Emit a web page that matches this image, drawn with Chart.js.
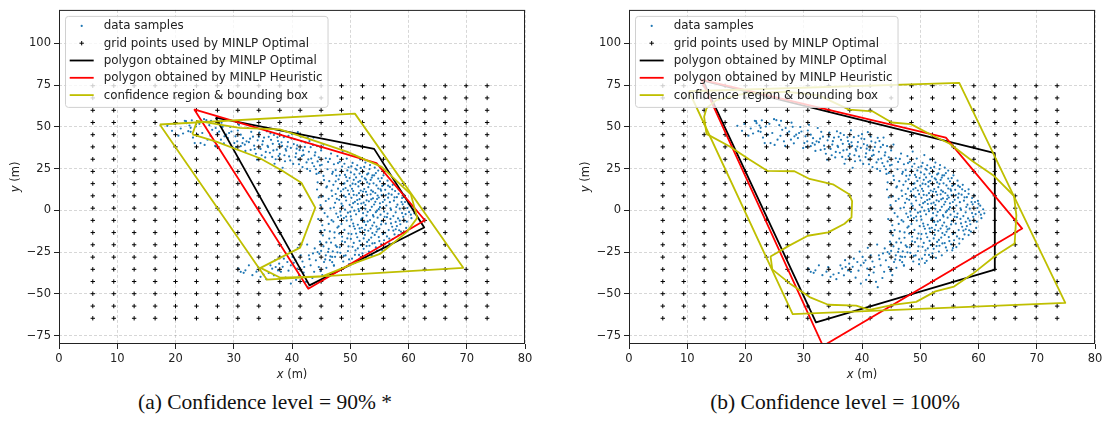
<!DOCTYPE html>
<html>
<head>
<meta charset="utf-8">
<script src="https://cdn.jsdelivr.net/npm/chart.js"></script>
<style>
  body { margin: 0; background: #fff; }
  #wrap { position: relative; width: 1102px; height: 423px; overflow: hidden; }
  canvas { position: absolute; top: 0; }
  .cap { position: absolute; top: 390px; width: 400px; text-align: center;
         font-family: "Liberation Serif", serif; font-size: 21.5px; line-height: 24px; color: #111; }
</style>
</head>
<body>
<div id="wrap">
  <canvas id="chartA" width="540" height="390" style="left:0px"></canvas>
  <canvas id="chartB" width="540" height="390" style="left:570px"></canvas>
  <div class="cap" id="capA" style="left:65px"></div>
  <div class="cap" id="capB" style="left:635px"></div>
</div>
<script>
// axis ticks
const xTicks = [0, 10, 20, 30, 40, 50, 60, 70, 80];
const yTicks = [-75, -50, -25, 0, 25, 50, 75, 100];

// candidate grid (same in both panels)
const gridX = [5.8, 9.4, 12.9, 16.5, 20.0, 23.6, 27.2, 30.7, 34.3, 37.9, 41.4, 45.0, 48.5, 52.1, 55.7, 59.2, 62.8, 66.3, 69.9, 73.5];
const gridY = [74.6, 67.3, 59.9, 52.6, 45.3, 38.0, 30.6, 23.3, 16.0, 8.7, 1.3, -6.0, -13.3, -20.6, -28.0, -35.3, -42.6, -49.9, -57.3, -64.6];

// data samples (same cloud in both panels)
const samples = [
  [18.6,50.6],[19.4,47.6],[20.5,44.7],[21.6,53.6],[21.9,52.2],[22.4,50.8],[22.6,49.4],[22.2,47.4],[22.6,47.0],[23.5,50.2],
  [23.8,45.3],[23.3,40.3],[24.3,40.3],[24.9,54.6],[26.1,53.6],[25.5,42.3],[26.3,48.2],[26.9,49.3],[27.2,46.3],[27.5,47.2],
  [27.8,42.3],[26.6,41.3],[28.4,44.3],[28.7,45.3],[29.0,43.3],[29.2,46.3],[29.6,47.2],[30.1,40.3],[30.3,44.3],[30.6,41.3],
  [31.2,38.4],[31.5,40.3],[31.9,39.3],[32.2,41.3],[30.9,51.2],[31.2,45.3],[30.4,38.0],[21.8,53.4],[25.3,54.0],[28.1,50.0],
  [32.6,40.8],[32.9,36.2],[33.3,44.1],[33.5,38.7],[33.8,33.9],[34.1,41.9],[34.4,46.5],[34.6,36.8],[34.9,39.4],[35.2,43.6],
  [35.4,31.7],[35.7,47.3],[35.9,37.9],[36.2,34.5],[36.4,42.2],[36.7,39.8],[36.9,45.1],[37.2,30.6],[37.4,36.3],[37.6,41.5],
  [37.9,33.8],[38.1,47.9],[38.3,38.6],[38.6,43.8],[38.8,29.4],[39.0,35.7],[39.3,40.9],[39.5,32.3],[39.8,37.4],[40.0,45.6],
  [40.2,27.8],[40.4,42.7],[40.7,34.1],[40.9,38.9],[41.1,30.5],[41.3,36.0],[41.6,41.3],[41.8,25.9],[42.0,33.2],[42.2,38.0],
  [42.5,28.7],[42.7,43.4],[42.9,35.1],[43.1,23.6],[43.3,31.0],[43.6,39.2],[43.8,26.4],[44.0,34.7],[44.2,21.8],[44.4,29.3],
  [36.0,44.0],[37.0,27.9],[38.7,33.0],[39.9,43.0],[41.0,46.8],[34.0,30.3],[35.5,35.0],[36.6,32.0],[38.4,25.5],[40.6,31.9],
  [41.9,35.9],[43.0,41.5],[33.0,47.0],[39.2,38.2],[37.8,39.6],
  [19.8,51.7],[20.9,49.0],[21.3,46.0],[22.8,53.9],[23.0,43.6],[24.1,51.8],[24.6,46.3],[25.0,39.2],[25.8,51.0],[26.0,44.6],
  [26.8,38.6],[27.9,52.5],[28.3,40.1],[29.4,49.9],[29.9,37.3],[30.7,47.8],[31.6,43.2],[32.0,35.6],[32.4,49.3],[32.8,42.9],
  [33.6,36.7],[34.3,44.0],[34.8,33.0],[35.0,41.4],[35.8,38.6],[36.3,46.2],[36.8,35.9],[37.5,43.7],[37.7,32.5],[38.2,40.7],
  [38.9,36.7],[39.4,44.6],[39.7,29.9],[40.3,39.7],[40.8,36.9],[41.2,27.6],[41.5,44.1],[41.7,32.6],[42.3,40.6],[42.6,24.8],
  [42.8,30.5],[43.2,37.8],[43.5,28.3],[43.7,43.6],[43.9,32.9],[44.1,24.6],[44.3,38.5],[44.6,31.8],[45.0,35.9],[45.4,39.4],
  [44.3,12.5],[44.5,-5.2],[44.6,22.4],[44.8,-18.7],[44.9,3.1],[44.7,-26.0],[44.4,16.8],[44.9,-12.3],
  [45.1,27.3],[45.2,-8.9],[45.3,8.4],[45.4,-21.5],[45.5,18.1],[45.6,-1.6],[45.7,-29.4],[45.8,31.2],[45.9,13.7],[45.3,-15.0],
  [46.1,24.6],[46.1,-3.8],[46.2,-24.9],[46.3,6.9],[46.4,17.5],[46.5,-12.6],[46.5,30.8],[46.6,1.2],[46.7,-19.3],[46.8,11.8],
  [46.9,-31.0],[46.9,21.9],[46.3,-8.1],[46.7,34.0],
  [47.1,-6.7],[47.1,15.3],[47.2,27.6],[47.3,-16.4],[47.4,4.5],[47.4,-27.8],[47.5,9.8],[47.6,20.7],[47.6,-1.9],[47.7,-21.9],
  [47.8,32.5],[47.8,-10.3],[47.9,13.0],[47.2,-33.1],[47.5,24.1],[47.9,-4.0],
  [48.0,18.6],[48.1,-13.9],[48.1,6.3],[48.2,29.1],[48.3,-25.4],[48.3,-0.8],[48.4,11.4],[48.5,23.9],[48.5,-8.2],[48.6,-18.5],
  [48.7,2.7],[48.7,35.2],[48.8,15.9],[48.8,-30.6],[48.9,-4.6],[48.9,8.8],[48.2,-22.1],[48.6,26.2],
  [49.0,-11.7],[49.1,21.2],[49.1,0.4],[49.2,-27.0],[49.2,13.4],[49.3,5.9],[49.4,-6.1],[49.4,31.0],[49.5,-16.8],[49.5,17.6],
  [49.6,-1.4],[49.7,25.8],[49.7,-21.6],[49.8,9.7],[49.8,-32.2],[49.9,3.3],[49.9,-9.4],[49.3,19.9],[49.6,-24.4],[49.0,27.9],
  [50.0,14.8],[50.1,-3.6],[50.1,22.7],[50.2,-14.2],[50.2,7.5],[50.3,-28.9],[50.3,1.8],[50.4,28.4],[50.5,-7.9],[50.5,11.6],
  [50.6,-19.5],[50.6,18.3],[50.7,-0.2],[50.7,33.1],[50.8,5.1],[50.8,-11.0],[50.9,-24.0],[50.9,24.9],[50.2,-5.6],[50.4,16.0],
  [50.6,9.3],[50.8,-31.5],
  [51.0,-2.4],[51.0,19.7],[51.1,9.0],[51.2,-16.1],[51.2,27.0],[51.3,3.8],[51.3,-8.6],[51.4,14.3],[51.5,-26.7],[51.5,-0.5],
  [51.6,22.0],[51.6,6.7],[51.7,-12.9],[51.7,30.5],[51.8,-20.8],[51.8,11.9],[51.9,1.3],[51.9,-5.3],[51.1,-30.2],[51.4,17.0],
  [51.6,-18.3],[51.8,25.4],
  [52.0,8.1],[52.0,-10.4],[52.1,15.6],[52.2,-1.7],[52.2,23.3],[52.3,-23.0],[52.3,4.6],[52.4,-6.9],[52.5,19.1],[52.5,-14.7],
  [52.6,0.9],[52.6,28.6],[52.7,11.1],[52.7,-28.5],[52.8,-3.1],[52.8,6.0],[52.9,-18.9],[52.9,16.7],[52.1,-25.8],[52.4,12.8],
  [52.7,-8.8],[52.9,21.5],
  [53.0,-0.9],[53.1,13.9],[53.1,-12.2],[53.2,5.4],[53.3,24.7],[53.3,-21.2],[53.4,-5.8],[53.5,9.6],[53.5,18.2],[53.6,-16.3],
  [53.7,2.1],[53.7,-26.9],[53.8,-9.1],[53.8,21.0],[53.9,7.2],[53.9,-2.9],[53.2,-17.7],[53.4,27.1],[53.6,12.0],[53.8,-13.6],
  [54.0,16.2],[54.1,-7.3],[54.1,3.5],[54.2,-19.6],[54.3,10.4],[54.4,-1.1],[54.4,22.3],[54.5,-12.8],[54.6,6.8],[54.6,-24.1],
  [54.7,-4.4],[54.8,13.1],[54.8,19.0],[54.9,0.7],[54.9,-16.0],[54.2,25.6],[54.5,-9.7],[54.7,8.9],
  [55.0,-10.9],[55.1,4.2],[55.1,17.4],[55.2,-2.6],[55.3,-20.3],[55.4,9.1],[55.4,-6.4],[55.5,14.6],[55.6,-14.2],[55.7,1.5],
  [55.7,21.0],[55.8,-17.9],[55.9,6.3],[55.9,-3.9],[55.3,11.8],[55.6,-22.6],
  [56.0,12.3],[56.1,-8.0],[56.2,2.9],[56.3,-15.6],[56.4,17.8],[56.4,-1.9],[56.5,7.6],[56.6,-11.8],[56.7,-19.9],[56.8,4.9],
  [56.8,14.0],[56.9,-5.1],[56.2,-22.0],[56.6,10.0],
  [57.0,0.3],[57.1,9.4],[57.2,-9.8],[57.3,15.3],[57.4,-3.4],[57.5,5.8],[57.6,-14.4],[57.7,11.6],[57.8,-6.9],[57.9,2.0],
  [57.3,-17.2],[57.8,-11.3],
  [58.0,7.9],[58.2,-4.8],[58.3,12.6],[58.4,-11.9],[58.5,1.0],[58.6,-8.3],[58.8,5.0],[58.9,-1.6],[58.3,-14.8],
  [59.0,3.6],[59.2,-6.2],[59.3,9.0],[59.5,-2.3],[59.6,-10.5],[59.8,1.4],[59.9,5.7],
  [60.1,-1.0],[60.3,2.8],[60.5,-4.7],[60.8,0.6],
  [44.6,7.8],[44.8,26.9],[45.0,-24.3],[45.2,0.9],[45.4,20.6],[45.6,-11.8],[45.8,5.6],[45.9,-19.2],[46.0,14.3],[46.2,29.0],
  [46.4,-16.9],[46.6,-27.6],[46.8,-5.9],[46.9,8.6],[47.0,23.0],[47.2,1.7],[47.3,-13.2],[47.5,17.4],[47.7,6.9],[47.8,-25.1],
  [47.9,28.3],[48.0,-9.6],[48.2,21.0],[48.4,-3.1],[48.5,4.0],[48.6,-15.8],[48.8,12.6],[48.9,-27.2],[49.0,16.1],[49.1,-19.0],
  [49.2,8.0],[49.3,-3.7],[49.5,23.9],[49.6,11.9],[49.7,-13.9],[49.8,-29.4],[49.9,19.3],[50.0,-0.9],[50.1,-17.1],[50.2,26.3],
  [50.3,12.9],[50.4,-21.8],[50.5,4.3],[50.6,-9.5],[50.7,21.5],[50.8,-26.6],[50.9,15.7],[51.0,-13.9],[51.1,24.3],[51.2,6.2],
  [51.3,-22.8],[51.4,0.8],[51.5,10.3],[51.6,-10.8],[51.7,17.7],[51.8,-28.0],[51.9,4.1],[52.0,20.2],[52.1,-4.5],[52.2,11.3],
  [52.3,-16.8],[52.4,26.0],[52.5,-11.7],[52.6,3.2],[52.7,18.4],[52.8,-21.4],[52.9,9.3],[53.0,-6.6],[53.1,22.1],[53.2,-24.7],
  [53.3,15.9],[53.4,0.2],[53.5,-10.9],[53.6,6.6],[53.7,19.6],[53.8,-19.8],[53.9,11.2],[54.0,-3.7],[54.1,20.9],[54.2,-14.7],
  [54.3,5.1],[54.4,-22.2],[54.5,14.9],[54.6,-0.2],[54.7,-11.4],[54.8,23.8],[54.9,7.7],[55.0,-18.4],[55.1,1.9],[55.2,12.6],
  [55.3,-8.4],[55.4,19.3],[55.5,-23.9],[55.6,5.0],[55.8,-0.7],[55.9,15.7],[56.0,-13.4],[56.1,9.2],[56.3,-4.1],[56.5,14.8],
  [56.7,-16.9],[56.9,1.2],[57.0,-7.8],[57.2,12.6],[57.4,-12.1],[57.6,7.8],[57.8,-1.2],[58.0,-9.4],[58.1,3.4],[58.3,9.9],
  [58.5,-6.2],[58.7,-12.7],[58.9,7.4],[59.1,-3.9],[59.4,5.0],[59.7,-6.8],[60.0,3.9],[60.4,-2.6],[61.0,-1.8],
  [30.8,-34.8],[31.2,-36.8],[31.7,-37.4],[32.6,-32.9],[33.2,-38.8],[34.6,-39.8],[35.1,-38.4],[36.3,-32.9],[36.6,-34.9],[37.2,-33.9],
  [37.8,-31.9],[38.1,-36.8],[38.6,-28.9],[39.2,-30.9],[39.8,-32.9],[40.1,-27.9],[39.8,-43.8],[40.6,-29.9],[40.9,-34.9],[41.2,-38.8],
  [41.5,-26.9],[42.1,-33.9],[42.4,-42.8],[42.9,-26.9],[43.2,-32.9],[43.8,-36.8],[44.1,-29.9],[44.4,-25.0],[44.6,-33.9],[45.2,-38.8],
  [45.5,-30.9],[45.8,-26.9],[46.3,-23.0],[46.9,-27.9],[47.2,-32.9],[47.5,-21.0],[42.7,-46.0],[38.9,-40.3],[36.0,-37.5],[43.5,-40.5],
  [41.0,-22.4],[42.6,-20.5],[43.9,-22.8],[45.0,-20.1],[39.6,-24.7],[37.1,-29.8],
  [32.0,-35.9],[33.9,-36.7],[35.6,-41.2],[36.9,-38.9],[38.4,-33.8],[39.4,-36.1],[40.3,-31.4],[41.8,-30.6],[42.0,-37.2],[43.0,-29.2],
  [43.6,-25.8],[44.9,-36.4],[45.9,-34.4],[46.5,-29.8],[47.0,-24.6],[40.7,-41.6],[37.6,-36.0],[34.2,-34.0]
];

// panel (a): confidence level 90%
const optimalA = [[26.9,55.5],[54.1,36.8],[62.7,-10.3],[43.0,-44.9],[26.9,55.5]];
const heuristicA = [[23.2,60.5],[54.5,28.3],[62.8,-5.9],[42.8,-46.9],[23.2,60.5]];
const regionA = [[22.9,45.5],[23.7,53.6],[31.0,49.4],[37.9,48.5],[42.5,43.3],[49.4,35.2],[55.4,26.0],[60.4,9.6],
  [61.5,-4.5],[59.7,-13.0],[55.1,-26.1],[51.1,-31.1],[45.2,-39.5],[38.0,-40.3],[34.6,-34.4],[41.4,-22.3],[44.0,1.6],
  [41.6,16.5],[38.2,24.0],[34.5,31.2],[27.0,41.1],[22.9,45.5]];
const boxA = [[17.3,51.4],[50.8,57.9],[69.4,-34.4],[35.7,-41.5],[17.3,51.4]];

// panel (b): confidence level 100%
const optimalB = [[12.7,77.7],[62.8,34.2],[62.8,-35.5],[32.1,-67.1],[12.7,77.7]];
const heuristicB = [[12.4,78.3],[54.4,43.5],[67.5,-10.9],[33.3,-81.2],[12.4,78.3]];
const regionB = [[13.3,61.1],[15.0,66.0],[20.0,70.0],[27.0,71.0],[32.6,68.8],[37.8,60.3],[41.8,59.3],[45.1,52.6],
  [48.4,51.6],[52.1,44.8],[55.0,40.0],[59.0,29.4],[62.7,20.5],[66.1,8.6],[66.5,-3.0],[66.2,-19.9],[62.8,-27.5],
  [59.0,-38.0],[55.8,-45.6],[52.6,-48.5],[49.3,-54.8],[45.3,-56.6],[41.3,-59.6],[39.0,-57.0],[34.2,-56.5],[31.0,-51.9],
  [27.8,-44.3],[24.6,-35.3],[24.3,-27.6],[27.5,-21.1],[30.7,-15.2],[34.2,-13.2],[37.0,-8.0],[38.2,-4.2],[38.3,5.5],
  [37.8,9.6],[35.0,15.6],[31.0,18.8],[28.4,23.4],[23.8,23.6],[20.6,30.6],[17.3,38.2],[13.3,45.8],[12.9,56.0],[13.3,61.1]];
const boxB = [[10.3,71.3],[56.7,76.3],[74.9,-55.4],[28.1,-62.1],[10.3,71.3]];

const legendLabels = [
  'data samples',
  'grid points used by MINLP Optimal',
  'polygon obtained by MINLP Optimal',
  'polygon obtained by MINLP Heuristic',
  'confidence region & bounding box'
];
const captions = ['(a) Confidence level = 90% *', '(b) Confidence level = 100%'];

const FONT = '"DejaVu Sans", sans-serif';
const toXY = arr => arr.map(p => ({ x: p[0], y: p[1] }));

const gridPts = [];
gridY.forEach(y => gridX.forEach(x => gridPts.push({ x: x, y: y })));

// frame, legend box and axis titles, drawn the matplotlib way
const mplPlugin = {
  id: 'mpl',
  afterDraw(chart) {
    const ctx = chart.ctx;
    const a = chart.chartArea;
    ctx.save();

    // legend
    const lx = a.left + 6, ly = a.top + 6;
    ctx.font = '11.9px ' + FONT;
    const items = chart.data.datasets.filter(d => !d.noLegend);
    const tw = Math.max(...items.map(d => ctx.measureText(d.label).width));
    const w = 38.7 + tw + 5, h = 91;
    ctx.beginPath();
    ctx.roundRect(lx + 0.5, ly + 0.5, w, h, 3);
    ctx.fillStyle = 'rgba(255,255,255,0.8)';
    ctx.fill();
    ctx.strokeStyle = '#d0d0d0';
    ctx.lineWidth = 1;
    ctx.stroke();
    items.forEach((d, i) => {
      const cy = ly + 10 + i * 17.3;
      const mx = lx + 16.7;
      if (d.showLine) {
        ctx.beginPath();
        ctx.moveTo(lx + 4.7, cy);
        ctx.lineTo(lx + 28.7, cy);
        ctx.strokeStyle = d.borderColor;
        ctx.lineWidth = d.borderWidth;
        ctx.stroke();
      } else if (d.pointStyle === 'cross') {
        ctx.beginPath();
        ctx.moveTo(mx - 2.2, cy); ctx.lineTo(mx + 2.2, cy);
        ctx.moveTo(mx, cy - 2.2); ctx.lineTo(mx, cy + 2.2);
        ctx.strokeStyle = '#000';
        ctx.lineWidth = 1;
        ctx.stroke();
      } else {
        ctx.beginPath();
        ctx.arc(mx, cy, 1.1, 0, Math.PI * 2);
        ctx.fillStyle = d.pointBackgroundColor;
        ctx.fill();
      }
      ctx.fillStyle = '#222';
      ctx.textBaseline = 'middle';
      ctx.textAlign = 'left';
      ctx.fillText(d.label, lx + 38.7, cy + 0.5);
    });

    // spines
    ctx.strokeStyle = '#222';
    ctx.lineWidth = 1;
    ctx.strokeRect(a.left + 0.5, a.top + 0.5, a.right - a.left - 1, a.bottom - a.top - 1);

    // axis titles with italic variable
    const drawTitle = (v, x, y) => {
      ctx.font = 'italic 11.5px ' + FONT;
      const w1 = ctx.measureText(v).width;
      ctx.font = '11.5px ' + FONT;
      const w2 = ctx.measureText(' (m)').width;
      const sx = x - (w1 + w2) / 2;
      ctx.fillStyle = '#222';
      ctx.textBaseline = 'middle';
      ctx.textAlign = 'left';
      ctx.font = 'italic 11.5px ' + FONT;
      ctx.fillText(v, sx, y);
      ctx.font = '11.5px ' + FONT;
      ctx.fillText(' (m)', sx + w1, y);
    };
    drawTitle('x', (a.left + a.right) / 2, 375);
    ctx.translate(16, (a.top + a.bottom) / 2);
    ctx.rotate(-Math.PI / 2);
    drawTitle('y', 0, 0);
    ctx.restore();
  }
};

function lineSet(label, pts, color, order, noLegend) {
  return {
    label: label,
    data: toXY(pts),
    showLine: true,
    borderColor: color,
    borderWidth: 1.8,
    borderJoinStyle: 'round',
    pointRadius: 0,
    fill: false,
    tension: 0,
    clip: 0,
    order: order,
    noLegend: noLegend
  };
}

function axis(ticksArr, min, max, fit) {
  return {
    type: 'linear',
    min: min,
    max: max,
    afterBuildTicks: s => { s.ticks = ticksArr.map(v => ({ value: v })); },
    afterFit: fit,
    grid: {
      color: 'rgba(0,0,0,0.2)',
      lineWidth: 0.8,
      tickLength: 5,
      tickColor: '#222',
      tickWidth: 1,
      tickBorderDash: [1, 0]
    },
    border: { display: false, dash: [3, 2] },
    ticks: {
      color: '#222',
      font: { family: FONT, size: 11.5 },
      padding: 3,
      maxRotation: 0,
      autoSkip: false,
      callback: v => String(v).replace('-', '\u2212')
    }
  };
}

function makeChart(id, optimal, heuristic, region, box) {
  return new Chart(document.getElementById(id), {
    type: 'scatter',
    data: {
      datasets: [
        { label: legendLabels[0], data: toXY(samples), pointRadius: 1.1, pointBorderWidth: 0,
          pointBackgroundColor: '#1f77b4', order: 5 },
        { label: legendLabels[1], data: gridPts, pointStyle: 'cross', pointRadius: 2.2,
          pointBorderColor: '#000', pointBorderWidth: 1, order: 4 },
        lineSet(legendLabels[2], optimal, '#000000', 3),
        lineSet(legendLabels[3], heuristic, '#ff0000', 2),
        lineSet(legendLabels[4], region, '#bfbf00', 1),
        lineSet('bounding box', box, '#bfbf00', 0, true)
      ]
    },
    options: {
      responsive: false,
      animation: false,
      devicePixelRatio: 1,
      layout: { padding: { top: 7, right: 15, left: 0, bottom: 0 } },
      plugins: { legend: { display: false }, tooltip: { enabled: false } },
      scales: {
        x: axis(xTicks, 0, 80, s => { s.height = 46; }),
        y: axis(yTicks, -80, 120, s => { s.width = 59; })
      }
    },
    plugins: [mplPlugin]
  });
}

makeChart('chartA', optimalA, heuristicA, regionA, boxA);
makeChart('chartB', optimalB, heuristicB, regionB, boxB);
document.getElementById('capA').textContent = captions[0];
document.getElementById('capB').textContent = captions[1];
</script>
</body>
</html>
